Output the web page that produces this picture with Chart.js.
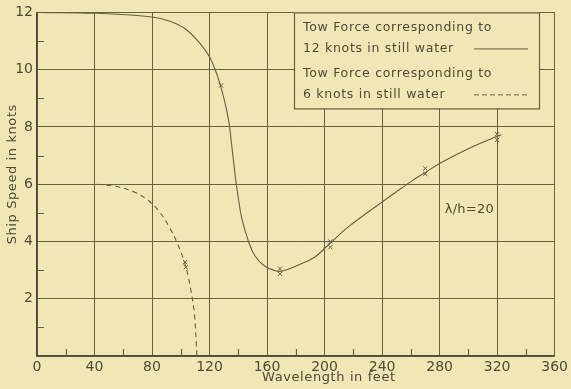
<!DOCTYPE html>
<html>
<head>
<meta charset="utf-8">
<script src="https://cdn.jsdelivr.net/npm/chart.js@4.4.1/dist/chart.umd.min.js"></script>
<style>
  html, body { margin: 0; padding: 0; background: #f1e7b6; }
  #wrap { width: 571px; height: 389px; }
</style>
</head>
<body>
<div id="wrap"><canvas id="c" width="571" height="389"></canvas></div>
<script>
// ---- Data ----
const xTicks = [0, 40, 80, 120, 160, 200, 240, 280, 320, 360];
const yTicks = [0, 2, 4, 6, 8, 10, 12];
const xMinor = [20, 60, 100, 140, 180, 220, 260, 300, 340];
const yMinor = [1, 3, 5, 7, 9, 11];

// Tow force corresponding to 12 knots in still water (solid curve)
const solidX = [0, 40, 80, 92, 103, 112.4, 120.5, 127.4, 133, 135.1, 137.2, 139.3, 142.3, 146.9, 151.5, 158, 165, 170, 181, 193, 202, 216, 240, 250, 260, 271, 280, 296, 308, 321, 323];
const solidY = [12.0, 11.97, 11.84, 11.7, 11.43, 10.97, 10.4, 9.48, 8.31, 7.5, 6.57, 5.76, 4.84, 4.03, 3.5, 3.15, 2.99, 2.96, 3.16, 3.45, 3.85, 4.49, 5.38, 5.74, 6.09, 6.44, 6.72, 7.14, 7.42, 7.69, 7.74];

// Tow force corresponding to 6 knots in still water (dashed curve)
const dashX = [42, 57, 68, 77, 85, 92, 97, 103, 107, 109.5, 110.8, 111.2];
const dashY = [6.0, 5.9, 5.72, 5.45, 5.05, 4.5, 4.0, 3.2, 2.3, 1.45, 0.4, 0.0];

// Measured points (x markers)
const markX = [128, 169, 169, 204, 204, 270, 270, 320, 320, 103, 103.5];
const markY = [9.45, 3.05, 2.87, 4.0, 3.8, 6.55, 6.36, 7.75, 7.55, 3.28, 3.1];

const legendLines = ["Tow Force corresponding to", "12 knots in still water", "Tow Force corresponding to", "6 knots in still water"];
const annotationText = "λ/h=20";
const xTitle = "Wavelength in feet";
const yTitle = "Ship Speed in knots";

// ---- Styles ----
const BG = '#f1e7b6';
const INK = '#4e4a33';
const GRID = '#66613f';
const CURVE = '#665f40';
const FONT = '"DejaVu Sans", sans-serif';

const toPts = (xs, ys) => xs.map((x, i) => ({ x: x, y: ys[i] }));

const bgPlugin = {
  id: 'bg',
  beforeDraw(chart) {
    const ctx = chart.ctx;
    ctx.save();
    ctx.fillStyle = BG;
    ctx.fillRect(0, 0, chart.width, chart.height);
    ctx.restore();
  }
};

const decoPlugin = {
  id: 'deco',
  beforeDatasetsDraw(chart) {
    const ctx = chart.ctx, xs = chart.scales.x, ys = chart.scales.y, ca = chart.chartArea;
    ctx.save();
    ctx.strokeStyle = GRID;
    ctx.lineWidth = 1.2;
    ctx.beginPath();
    yMinor.forEach(v => {
      const py = Math.round(ys.getPixelForValue(v)) + 0.5;
      ctx.moveTo(ca.left, py); ctx.lineTo(ca.left + 7, py);
    });
    xMinor.forEach(v => {
      const px = Math.round(xs.getPixelForValue(v)) + 0.5;
      ctx.moveTo(px, ca.bottom); ctx.lineTo(px, ca.bottom - 7);
    });
    ctx.stroke();
    ctx.restore();
  },
  afterDraw(chart) {
    const ctx = chart.ctx, xs = chart.scales.x, ys = chart.scales.y, ca = chart.chartArea;
    ctx.save();
    // Axis titles
    ctx.fillStyle = INK;
    ctx.font = '13px ' + FONT;
    ctx.letterSpacing = '0.6px';
    ctx.textAlign = 'center';
    ctx.textBaseline = 'middle';
    ctx.fillText(xTitle, xs.getPixelForValue(203), ca.bottom + 22);
    ctx.save();
    ctx.translate(13, ys.getPixelForValue(6.35));
    ctx.rotate(-Math.PI / 2);
    ctx.fillText(yTitle, 0, 0);
    ctx.restore();

    // Annotation
    ctx.textAlign = 'left';
    ctx.font = '13px ' + FONT;
    ctx.letterSpacing = '0.3px';
    ctx.fillText(annotationText, xs.getPixelForValue(283.5), ys.getPixelForValue(5.12));

    // Legend box
    const bx = 294, by = ca.top, bw = 245, bh = 96;
    ctx.fillStyle = BG;
    ctx.fillRect(bx, by, bw, bh);
    ctx.strokeStyle = GRID;
    ctx.lineWidth = 1.2;
    ctx.strokeRect(bx + 0.5, by + 0.5, bw, bh);
    ctx.fillStyle = INK;
    ctx.font = '12.5px ' + FONT;
    ctx.letterSpacing = '0.7px';
    ctx.textBaseline = 'middle';
    const ly = [by + 15, by + 36, by + 61, by + 82];
    legendLines.forEach((t, i) => ctx.fillText(t, bx + 9, ly[i]));
    ctx.strokeStyle = CURVE;
    ctx.lineWidth = 1;
    ctx.beginPath();
    ctx.moveTo(474, ly[1] + 0.5); ctx.lineTo(528, ly[1] + 0.5);
    ctx.stroke();
    ctx.setLineDash([5, 3]);
    ctx.beginPath();
    ctx.moveTo(474, ly[3] + 0.5); ctx.lineTo(528, ly[3] + 0.5);
    ctx.stroke();
    ctx.restore();
  }
};

new Chart(document.getElementById('c'), {
  type: 'scatter',
  data: {
    datasets: [
      {
        data: toPts(solidX, solidY),
        showLine: true,
        borderColor: CURVE,
        borderWidth: 1.1,
        pointRadius: 0,
        tension: 0.4,
        fill: false
      },
      {
        data: toPts(dashX, dashY),
        showLine: true,
        borderColor: CURVE,
        borderWidth: 1.1,
        borderDash: [5, 4],
        pointRadius: 0,
        tension: 0.4,
        fill: false
      },
      {
        data: toPts(markX, markY),
        showLine: false,
        pointStyle: 'crossRot',
        pointRadius: 3,
        borderColor: CURVE,
        borderWidth: 1,
        backgroundColor: CURVE
      }
    ]
  },
  options: {
    responsive: false,
    animation: false,
    layout: { padding: { top: 10, right: 12, left: 0, bottom: 0 } },
    plugins: { legend: { display: false }, tooltip: { enabled: false } },
    scales: {
      x: {
        type: 'linear',
        min: 0, max: 360,
        afterBuildTicks: s => { s.ticks = xTicks.map(v => ({ value: v })); },
        afterFit: s => { s.height = 33; },
        grid: { color: GRID, lineWidth: 1, drawTicks: false },
        border: { display: true, color: INK, width: 1.6 },
        ticks: { color: INK, font: { family: FONT, size: 14 }, padding: 3, maxRotation: 0 }
      },
      y: {
        type: 'linear',
        min: 0, max: 12,
        afterBuildTicks: s => { s.ticks = yTicks.map(v => ({ value: v })); },
        afterFit: s => { s.width = 37; },
        grid: { color: GRID, lineWidth: 1, drawTicks: false },
        border: { display: true, color: INK, width: 1.6 },
        ticks: {
          color: INK, font: { family: FONT, size: 14 }, padding: 4,
          callback: v => (v === 0 ? '' : String(v))
        }
      }
    }
  },
  plugins: [bgPlugin, decoPlugin]
});
</script>
</body>
</html>
